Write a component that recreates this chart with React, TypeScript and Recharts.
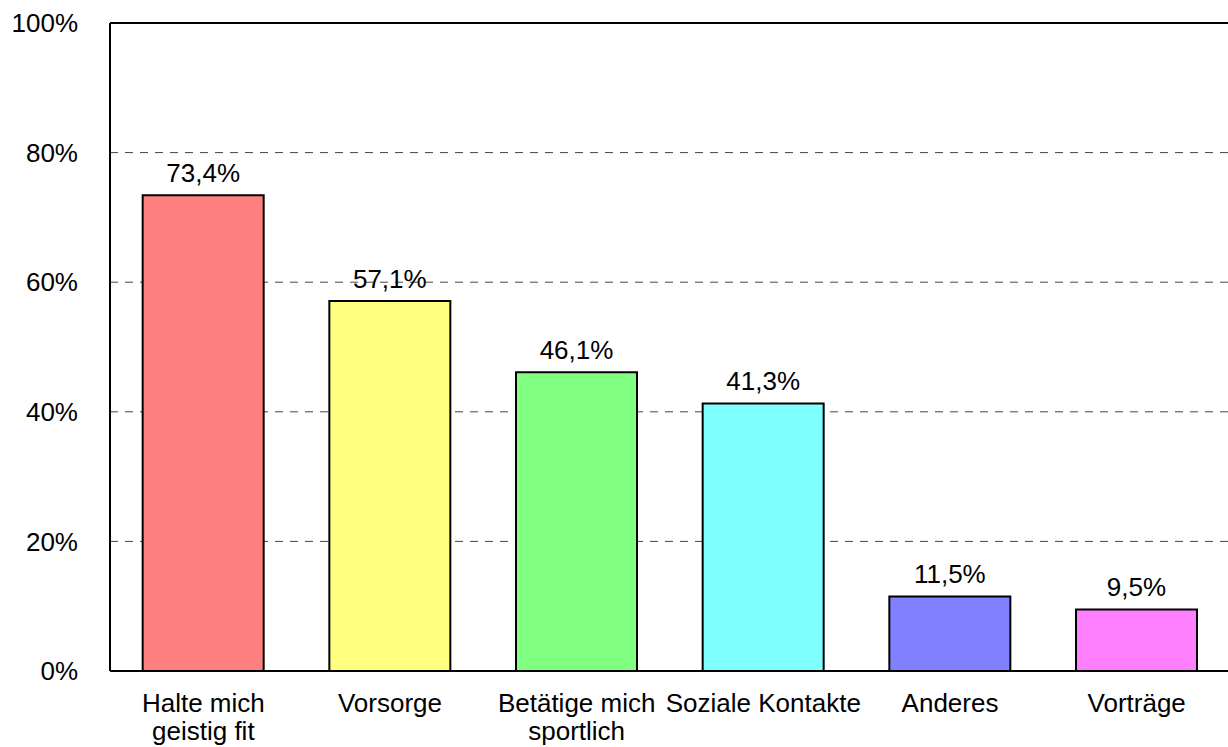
import { BarChart, Bar, XAxis, YAxis, CartesianGrid, Cell, LabelList, ReferenceLine } from "recharts";

const categories = ["Halte mich\ngeistig fit", "Vorsorge", "Betätige mich\nsportlich", "Soziale Kontakte", "Anderes", "Vorträge"];
const shares = [73.4, 57.1, 46.1, 41.3, 11.5, 9.5];
const barColors = ["#FF8080", "#FFFF80", "#80FF80", "#80FFFF", "#8080FF", "#FF80FF"];
const yTicks = [0, 20, 40, 60, 80, 100];

const FONT = '"Liberation Sans", Arial, sans-serif';
const FS = 26;

const data = categories.map((name, i) => ({ name, value: shares[i] }));

function pct(v: any) {
  return Number(v).toFixed(1).replace(".", ",") + "%";
}

function CategoryTick(props: any) {
  const { x, y, payload } = props;
  const lines = String(payload.value).split("\n");
  return (
    <text x={x} y={y} textAnchor="middle" fontFamily={FONT} fontSize={FS} fill="#000">
      {lines.map((ln, i) => (
        <tspan key={i} x={x} dy={i === 0 ? 41 : 28}>
          {ln}
        </tspan>
      ))}
    </text>
  );
}

export default function App() {
  return (
    <div style={{ position: "absolute", left: 0, top: 0, width: 1228, height: 747, overflow: "hidden", background: "#fff" }}>
      <BarChart
        width={1240}
        height={747}
        data={data}
        margin={{ top: 23, right: 10, bottom: 0, left: 0 }}
        barCategoryGap="17.5%"
      >
        <CartesianGrid vertical={false} stroke="#444" strokeDasharray="8 7" />
        <XAxis
          dataKey="name"
          height={76}
          tickLine={false}
          tickSize={0}
          tickMargin={0}
          axisLine={{ stroke: "#000", strokeWidth: 2 }}
          tick={<CategoryTick />}
          interval={0}
        />
        <YAxis
          width={110}
          domain={[0, 100]}
          ticks={yTicks}
          tickFormatter={(v: number) => `${v}%`}
          tickLine={false}
          tickSize={0}
          tickMargin={32}
          axisLine={{ stroke: "#000", strokeWidth: 2 }}
          tick={{ fill: "#000", fontSize: FS, fontFamily: FONT }}
        />
        <ReferenceLine y={100} stroke="#000" strokeWidth={2} />
        <Bar dataKey="value" stroke="#000" strokeWidth={2} isAnimationActive={false}>
          {data.map((_, i) => (
            <Cell key={i} fill={barColors[i]} />
          ))}
          <LabelList
            dataKey="value"
            position="top"
            offset={13}
            formatter={pct}
            fill="#000"
            fontSize={FS}
            fontFamily={FONT}
          />
        </Bar>
      </BarChart>
    </div>
  );
}
